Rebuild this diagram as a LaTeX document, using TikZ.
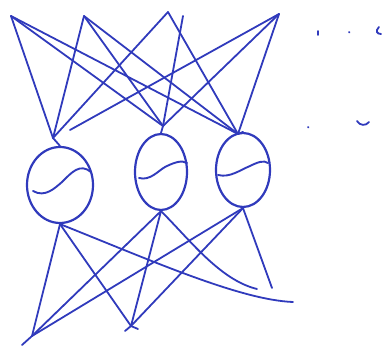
\documentclass[tikz,border=0pt]{standalone}
\usepackage{xcolor}
\usepackage{tikz}
\usetikzlibrary{shapes,arrows.meta,positioning,calc}
\definecolor{pen}{RGB}{48,58,188}

\begin{document}
\begin{tikzpicture}[x=1pt,y=-1pt,
  neuron/.style={ellipse,draw=pen,line width=2.2pt,inner sep=0pt},
  wire/.style={draw=pen,line width=1.8pt,line cap=round},
  wave/.style={draw=pen,line width=1.9pt,line cap=round},
  dot/.style={draw=pen,line width=1.8pt,line cap=round}
]
  \useasboundingbox (0,0) rectangle (392,347);
  % inputs on top
  \coordinate (in1) at (11,16);
  \coordinate (in2) at (84,16);
  \coordinate (in3) at (168,12);
  \coordinate (in4) at (183,16);
  \coordinate (in5) at (279,14);
  % hidden neurons
  \node[neuron,minimum width=66pt,minimum height=76pt] (n1) at (60,185) {};
  \node[neuron,minimum width=52pt,minimum height=76pt] (n2) at (161,172) {};
  \node[neuron,minimum width=54pt,minimum height=74pt] (n3) at (243,170) {};
  \coordinate (t1) at (53,138);
  \coordinate (t2) at (163,126);
  \coordinate (t3) at (238,134);
  \coordinate (stub) at (70,130);
  % outputs below
  \coordinate (o1) at (32,336);
  \coordinate (o2) at (131,326);
  \coordinate (r1) at (257,289);
  \coordinate (r2) at (272,288);
  \coordinate (r3) at (293,302);
  % top wires
  \draw[wire] (in1) -- (t1);
  \draw[wire] (in1) -- (t2);
  \draw[wire] (in1) -- (t3);
  \draw[wire] (in2) -- (t1);
  \draw[wire] (in2) -- (t2);
  \draw[wire] (in2) -- (t3);
  \draw[wire] (in3) -- (t1);
  \draw[wire] (in3) -- (t3);
  \draw[wire] (in4) -- (t2);
  \draw[wire] (in5) -- (stub);
  \draw[wire] (in5) -- (t2);
  \draw[wire] (in5) -- (t3);
  \draw[wire] (t1) -- (n1.north);
  \draw[wire] (t2) -- (n2.north);
  \draw[wire] (t3) -- (n3.north);
  % activation curves
  \draw[wave] (33,191) .. controls (45,198) and (55,188) .. (62,182) .. controls (72,172) and (80,163) .. (91,172);
  \draw[wave] (139,178) .. controls (150,181) and (158,171) .. (165,167) .. controls (175,162) and (182,160) .. (187,163);
  \draw[wave] (218,175) .. controls (230,178) and (240,170) .. (250,166) .. controls (258,162) and (264,160) .. (268,163);
  % bottom wires
  \draw[wire] (n1.south) -- (o1);
  \draw[wire] (n1.south) -- (o2);
  \draw[wire] (n1.south) .. controls (150,260) and (240,300) .. (r3);
  \draw[wire] (n2.south) -- (o1);
  \draw[wire] (n2.south) -- (o2);
  \draw[wire] (n2.south) .. controls (190,240) and (220,280) .. (r1);
  \draw[wire] (n3.south) -- (o1);
  \draw[wire] (n3.south) -- (o2);
  \draw[wire] (n3.south) -- (r2);
  \draw[wire] (o1) -- (22,345);
  \draw[wire] (o2) -- (125,331);
  \draw[wire] (o2) -- (138,329);
  % marks on the right
  \draw[dot] (318,31) -- (318,35);
  \draw[dot] (349,32) -- (349.5,32.5);
  \draw[dot] (379,27) .. controls (375,31) and (377,34) .. (381,34);
  \draw[dot] (308,127) -- (308.5,127.5);
  \draw[dot] (357,121) .. controls (360,126) and (366,126) .. (369,122);
\end{tikzpicture}
\end{document}
